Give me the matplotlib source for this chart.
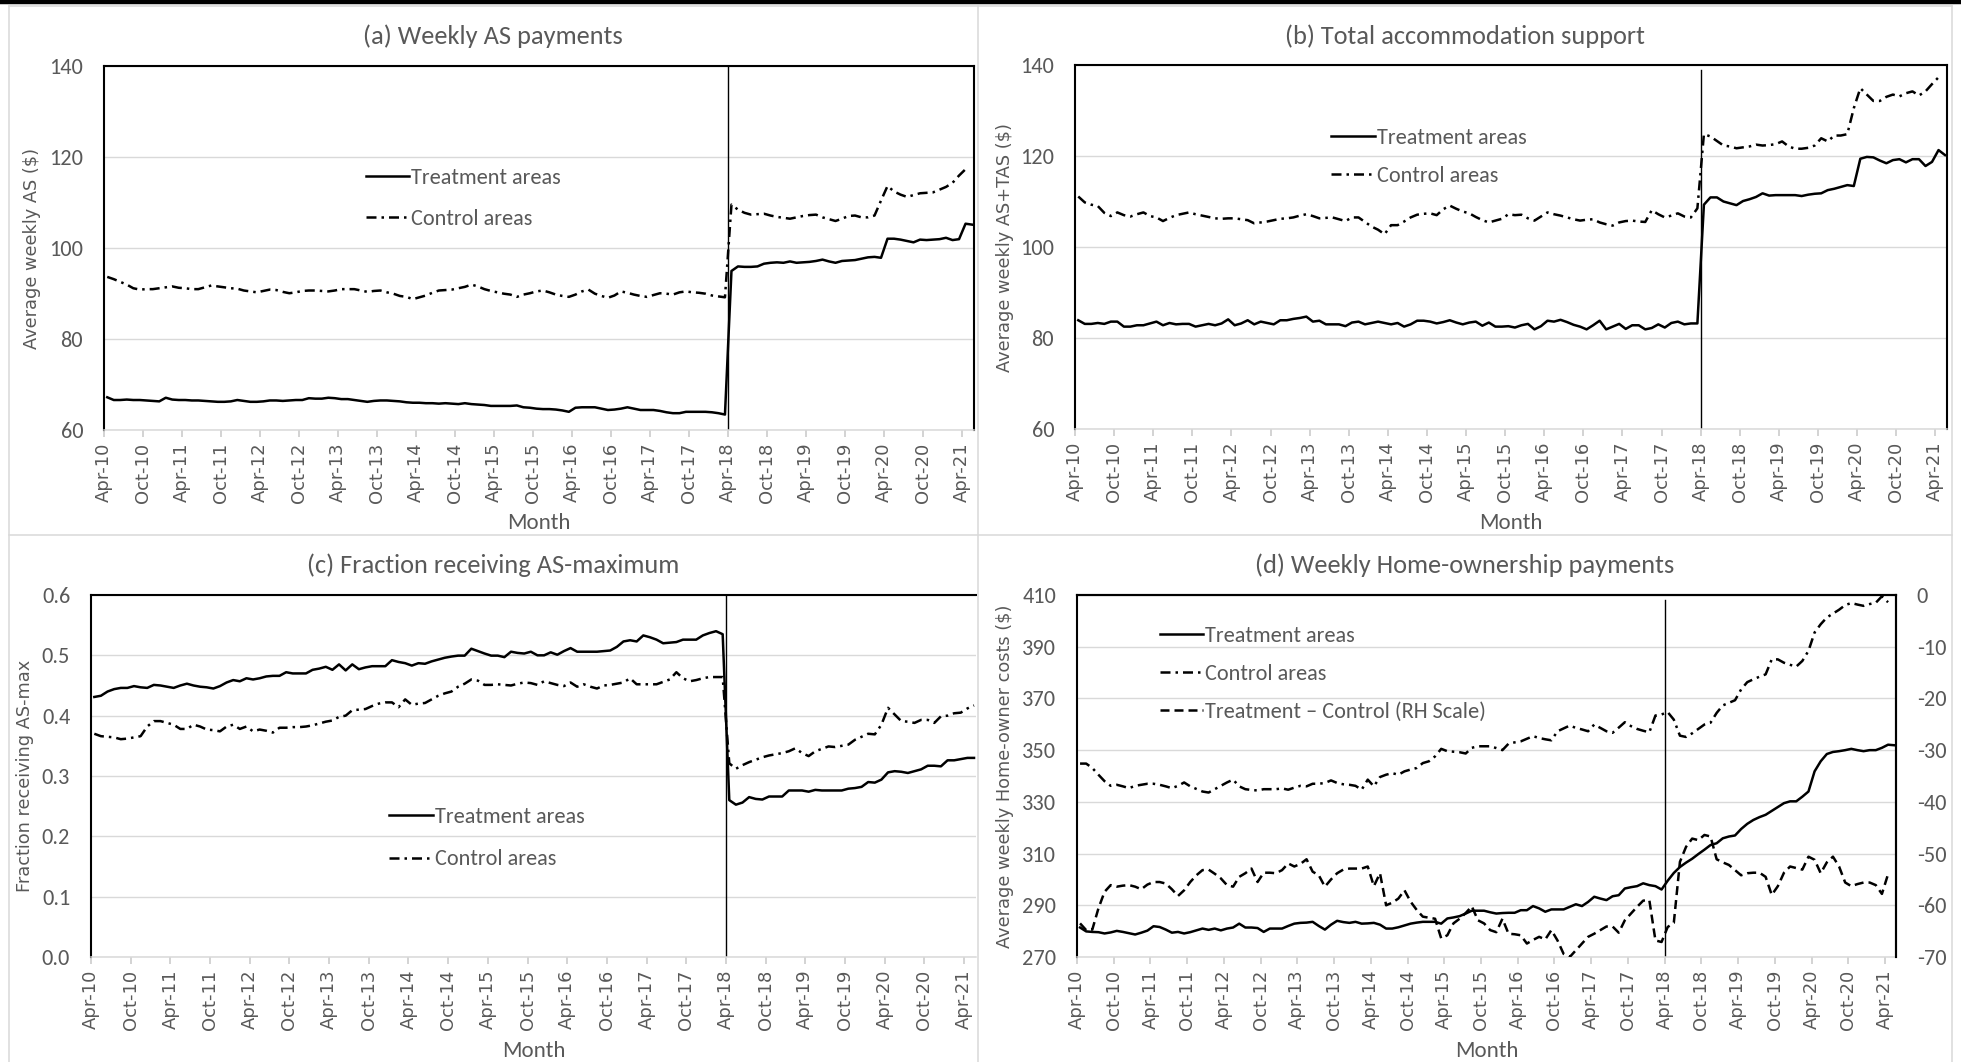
import matplotlib
matplotlib.use("Agg")
import matplotlib.pyplot as plt
from matplotlib.lines import Line2D
from matplotlib.ticker import FormatStrFormatter
from matplotlib.font_manager import FontProperties
import numpy as np

plt.rcParams['axes.unicode_minus'] = False

# ---------------------------------------------------------------- data
tick_labels = ["Apr-10", "Oct-10", "Apr-11", "Oct-11", "Apr-12", "Oct-12",
               "Apr-13", "Oct-13", "Apr-14", "Oct-14", "Apr-15", "Oct-15",
               "Apr-16", "Oct-16", "Apr-17", "Oct-17", "Apr-18", "Oct-18",
               "Apr-19", "Oct-19", "Apr-20", "Oct-20", "Apr-21"]
reform_label = "Apr-18"

# (a) weekly AS payments ($), monthly from Apr-10
as_treat = [
    67.2, 66.6, 66.6, 66.7, 66.6, 66.6, 66.5, 66.4, 66.3, 67.1,
    66.7, 66.6, 66.6, 66.5, 66.5, 66.4, 66.3, 66.2, 66.2, 66.3,
    66.6, 66.4, 66.2, 66.2, 66.3, 66.5, 66.5, 66.4, 66.5, 66.6,
    66.6, 67.0, 66.9, 66.9, 67.1, 67.0, 66.8, 66.8, 66.6, 66.4,
    66.2, 66.4, 66.5, 66.5, 66.4, 66.3, 66.1, 66.0, 66.0, 65.9,
    65.9, 65.8, 65.9, 65.8, 65.7, 65.9, 65.7, 65.6, 65.5, 65.3,
    65.3, 65.3, 65.3, 65.4, 65.0, 64.9, 64.7, 64.6, 64.6, 64.5,
    64.3, 64.0, 64.9, 65.0, 65.0, 65.0, 64.7, 64.4, 64.5, 64.7,
    65.0, 64.7, 64.4, 64.4, 64.4, 64.2, 63.9, 63.7, 63.7, 64.0,
    64.0, 64.0, 64.0, 63.9, 63.7, 63.4, 95.0, 96.0, 95.9, 95.9,
    96.0, 96.6, 96.8, 96.9, 96.8, 97.1, 96.8, 96.9, 97.0, 97.2,
    97.5, 97.1, 96.8, 97.2, 97.3, 97.4, 97.7, 98.0, 98.1, 97.9,
    102.1, 102.1, 101.9, 101.6, 101.3, 101.9, 101.8, 101.9, 102.0, 102.3,
    101.8, 102.0, 105.4, 105.2]
as_ctrl = [
    93.7, 93.2, 92.6, 92.0, 91.2, 90.9, 91.0, 91.0, 91.2, 91.4,
    91.6, 91.3, 91.2, 91.0, 91.0, 91.4, 91.8, 91.6, 91.4, 91.2,
    91.1, 90.7, 90.5, 90.3, 90.6, 90.9, 90.8, 90.4, 90.1, 90.3,
    90.6, 90.7, 90.7, 90.6, 90.5, 90.7, 91.0, 91.0, 91.0, 90.7,
    90.4, 90.6, 90.7, 90.3, 90.0, 89.5, 89.3, 88.8, 89.2, 89.6,
    90.2, 90.7, 90.8, 90.9, 91.2, 91.5, 92.0, 91.6, 91.0, 90.6,
    90.3, 90.0, 89.8, 89.3, 89.8, 90.1, 90.5, 90.7, 90.3, 89.8,
    89.5, 89.3, 89.8, 90.5, 90.9, 90.0, 89.5, 89.1, 89.6, 90.5,
    90.2, 89.8, 89.5, 89.3, 89.7, 90.1, 90.0, 89.8, 90.3, 90.5,
    90.3, 90.2, 90.0, 89.6, 89.4, 89.2, 109.6, 108.5, 107.8, 107.4,
    107.5, 107.6, 107.2, 106.9, 106.7, 106.5, 106.8, 107.1, 107.3, 107.4,
    106.8, 106.4, 106.0, 106.5, 107.1, 107.2, 106.8, 106.8, 107.2, 110.5,
    113.7, 112.5, 111.8, 111.3, 111.7, 112.1, 112.2, 112.3, 112.9, 113.5,
    114.4, 116.0, 117.4]

# (b) total accommodation support, AS+TAS ($)
tas_treat = [
    83.9, 83.1, 83.1, 83.3, 83.1, 83.6, 83.6, 82.5, 82.5, 82.8,
    82.8, 83.2, 83.6, 82.8, 83.3, 83.0, 83.1, 83.1, 82.5, 82.8,
    83.1, 82.8, 83.2, 84.1, 82.8, 83.2, 83.9, 83.0, 83.6, 83.3,
    83.0, 83.9, 83.9, 84.2, 84.4, 84.7, 83.6, 83.8, 83.0, 83.0,
    83.0, 82.6, 83.4, 83.6, 83.0, 83.3, 83.6, 83.3, 83.0, 83.3,
    82.5, 83.0, 83.8, 83.8, 83.6, 83.2, 83.5, 83.9, 83.4, 83.0,
    83.4, 83.6, 82.7, 83.4, 82.5, 82.5, 82.6, 82.3, 82.8, 83.1,
    81.9, 82.6, 83.8, 83.6, 84.0, 83.5, 82.9, 82.5, 81.9, 82.8,
    83.8, 81.9, 82.5, 83.1, 82.0, 82.8, 82.8, 81.9, 82.2, 83.0,
    82.3, 83.3, 83.6, 83.0, 83.2, 83.2, 109.3, 110.9, 110.9, 110.0,
    109.6, 109.2, 110.1, 110.5, 111.0, 111.8, 111.3, 111.4, 111.4, 111.4,
    111.4, 111.2, 111.5, 111.7, 111.8, 112.5, 112.8, 113.2, 113.6, 113.4,
    119.4, 119.8, 119.7, 119.0, 118.4, 119.1, 119.3, 118.6, 119.3, 119.3,
    117.8, 118.7, 121.3, 120.2]
tas_ctrl = [
    111.1, 109.8, 109.3, 109.0, 107.5, 106.8, 107.6, 107.0, 106.7, 107.2,
    107.6, 106.8, 106.5, 105.7, 106.4, 107.0, 107.3, 107.6, 107.2, 106.9,
    106.6, 106.3, 106.2, 106.3, 106.3, 106.1, 105.9, 105.2, 105.4, 105.6,
    105.9, 106.2, 106.3, 106.5, 106.9, 107.2, 106.8, 106.3, 106.4, 106.5,
    106.1, 105.7, 106.5, 106.5, 105.5, 104.5, 103.8, 102.8, 104.8, 104.8,
    105.6, 106.5, 107.1, 107.3, 107.4, 107.0, 108.3, 109.1, 108.4, 107.8,
    107.4, 106.6, 105.9, 105.4, 105.8, 106.2, 107.2, 107.0, 107.1, 106.3,
    105.8, 106.7, 107.6, 107.2, 106.9, 106.5, 106.1, 105.8, 106.0, 106.1,
    105.4, 105.0, 104.7, 105.4, 105.7, 105.8, 105.6, 105.5, 108.1, 107.2,
    106.5, 106.9, 107.4, 106.7, 106.5, 108.5, 124.8, 124.3, 123.3, 122.3,
    122.1, 121.7, 121.9, 122.1, 122.5, 122.3, 122.4, 122.6, 123.2, 122.1,
    121.6, 121.6, 121.8, 122.3, 123.9, 123.2, 124.5, 124.5, 124.8, 130.5,
    134.9, 133.5, 132.1, 132.1, 133.0, 133.5, 133.1, 133.8, 134.2, 133.3,
    134.2, 135.8, 137.3]

# (c) fraction receiving the AS maximum
max_treat = [
    0.431, 0.433, 0.440, 0.444, 0.446, 0.446, 0.449, 0.447, 0.446, 0.451,
    0.450, 0.448, 0.446, 0.450, 0.453, 0.450, 0.448, 0.447, 0.445, 0.449,
    0.455, 0.459, 0.457, 0.462, 0.460, 0.462, 0.465, 0.466, 0.466, 0.472,
    0.470, 0.470, 0.470, 0.476, 0.478, 0.481, 0.476, 0.485, 0.475, 0.485,
    0.477, 0.480, 0.482, 0.482, 0.482, 0.492, 0.489, 0.487, 0.483, 0.487,
    0.486, 0.490, 0.493, 0.496, 0.498, 0.4995, 0.4995, 0.511, 0.507, 0.503,
    0.4995, 0.4995, 0.497, 0.506, 0.504, 0.503, 0.506, 0.500, 0.500, 0.505,
    0.501, 0.507, 0.512, 0.506, 0.506, 0.506, 0.506, 0.507, 0.508, 0.514,
    0.523, 0.525, 0.523, 0.533, 0.530, 0.526, 0.520, 0.521, 0.522, 0.526,
    0.526, 0.526, 0.533, 0.537, 0.540, 0.535, 0.260, 0.2525, 0.256, 0.265,
    0.262, 0.261, 0.266, 0.266, 0.266, 0.276, 0.276, 0.276, 0.274, 0.277,
    0.276, 0.276, 0.276, 0.276, 0.279, 0.280, 0.282, 0.290, 0.289, 0.294,
    0.306, 0.308, 0.307, 0.305, 0.308, 0.311, 0.317, 0.317, 0.316, 0.326,
    0.326, 0.328, 0.330, 0.330]
max_ctrl = [
    0.370, 0.366, 0.365, 0.364, 0.361, 0.362, 0.364, 0.366, 0.382, 0.391,
    0.391, 0.388, 0.385, 0.378, 0.378, 0.385, 0.382, 0.377, 0.376, 0.374,
    0.382, 0.385, 0.378, 0.382, 0.374, 0.377, 0.375, 0.372, 0.380, 0.380,
    0.381, 0.381, 0.382, 0.384, 0.387, 0.390, 0.392, 0.398, 0.400, 0.409,
    0.410, 0.411, 0.416, 0.420, 0.422, 0.422, 0.414, 0.427, 0.418, 0.420,
    0.421, 0.427, 0.433, 0.437, 0.440, 0.448, 0.453, 0.460, 0.458, 0.451,
    0.451, 0.452, 0.451, 0.450, 0.453, 0.455, 0.454, 0.451, 0.457, 0.454,
    0.451, 0.449, 0.455, 0.448, 0.452, 0.448, 0.445, 0.450, 0.451, 0.453,
    0.455, 0.462, 0.452, 0.452, 0.452, 0.452, 0.456, 0.460, 0.472, 0.462,
    0.457, 0.459, 0.462, 0.464, 0.464, 0.464, 0.321, 0.312, 0.318, 0.323,
    0.327, 0.331, 0.334, 0.336, 0.338, 0.341, 0.346, 0.338, 0.333, 0.341,
    0.345, 0.349, 0.348, 0.350, 0.352, 0.360, 0.365, 0.370, 0.369, 0.385,
    0.413, 0.402, 0.391, 0.390, 0.388, 0.393, 0.393, 0.388, 0.399, 0.400,
    0.404, 0.405, 0.412, 0.417]

# (d) weekly home-ownership payments ($) and their difference (RH scale)
own_treat = [
    281.4, 279.9, 279.7, 279.6, 279.1, 279.5, 280.1, 279.7, 279.2, 278.7,
    279.4, 280.2, 281.9, 281.6, 280.6, 279.4, 279.7, 279.1, 279.6, 280.3,
    281.0, 280.5, 281.0, 280.3, 281.0, 281.4, 282.9, 281.4, 281.4, 281.2,
    279.7, 281.0, 281.0, 281.0, 282.0, 282.9, 283.2, 283.3, 283.6, 282.0,
    280.6, 282.5, 284.0, 283.5, 283.2, 283.6, 282.9, 283.0, 283.2, 282.5,
    281.0, 281.0, 281.5, 282.2, 282.9, 283.3, 283.6, 283.6, 283.6, 282.9,
    284.9, 285.3, 285.8, 286.8, 287.9, 287.9, 287.9, 287.3, 286.8, 287.0,
    287.1, 287.1, 288.1, 288.1, 289.7, 288.8, 287.5, 288.4, 288.4, 288.4,
    289.4, 290.4, 289.7, 291.3, 293.3, 292.6, 292.0, 293.5, 293.9, 296.5,
    297.0, 297.4, 298.5, 297.8, 297.4, 296.1, 299.5, 302.5, 304.8, 306.5,
    308.0, 309.8, 311.5, 313.3, 314.0, 315.9, 316.6, 317.0, 319.5, 321.5,
    323.0, 324.1, 325.0, 326.5, 328.0, 329.5, 330.2, 330.2, 332.0, 334.0,
    341.8, 345.7, 348.5, 349.3, 349.6, 350.0, 350.5, 350.0, 349.6, 350.0,
    350.0, 350.9, 352.1, 351.9]
own_ctrl = [
    344.8, 344.8, 343.1, 340.5, 338.0, 336.2, 336.6, 336.0, 335.3, 336.2,
    336.6, 337.0, 337.0, 336.6, 336.0, 335.3, 336.2, 337.5, 336.0, 335.0,
    334.0, 333.6, 334.9, 336.2, 337.5, 338.6, 336.0, 334.9, 334.6, 334.4,
    334.9, 334.9, 334.9, 335.2, 334.7, 335.5, 336.2, 336.0, 337.0, 337.0,
    337.3, 338.3, 337.3, 336.8, 336.6, 336.2, 334.7, 338.6, 336.0, 339.6,
    340.5, 341.1, 340.5, 341.8, 342.5, 343.1, 345.0, 345.7, 347.6, 350.5,
    349.6, 349.4, 349.2, 348.7, 350.9, 351.5, 351.5, 351.5, 350.8, 350.0,
    352.5, 353.0, 353.4, 354.4, 355.4, 354.7, 354.2, 353.8, 357.3, 358.4,
    359.5, 358.6, 358.0, 357.3, 359.9, 358.6, 357.3, 356.7, 358.7, 360.8,
    359.3, 358.2, 357.5, 356.9, 363.4, 363.8, 364.7, 361.8, 355.6, 355.1,
    356.5, 358.2, 359.9, 360.6, 364.4, 367.3, 368.3, 369.3, 373.5, 376.3,
    377.4, 378.4, 379.3, 385.1, 385.1, 383.8, 383.0, 382.3, 384.5, 388.4,
    395.5, 398.7, 401.3, 402.8, 404.3, 406.1, 406.9, 406.3, 405.8, 406.5,
    407.0, 409.5, 407.2]
own_diff = [
    -63.5, -64.8, -64.7, -60.6, -57.4, -56.1, -56.4, -56.2, -56.1, -56.4,
    -56.9, -56.0, -55.5, -55.5, -55.8, -56.9, -58.2, -57.1, -55.5, -54.2,
    -53.2, -53.1, -53.9, -54.8, -56.1, -56.4, -54.5, -53.8, -52.9, -55.5,
    -53.7, -53.7, -53.8, -53.2, -51.9, -52.5, -52.0, -51.1, -53.5, -54.2,
    -56.4, -55.0, -53.8, -53.1, -52.9, -52.9, -52.9, -52.5, -56.3, -53.8,
    -60.0, -59.5, -58.7, -57.1, -59.3, -60.9, -62.2, -62.4, -62.6, -66.4,
    -65.8, -63.5, -62.6, -61.5, -60.2, -62.9, -63.5, -64.8, -65.2, -62.6,
    -65.5, -65.6, -65.8, -67.4, -66.7, -66.1, -66.6, -64.8, -66.8, -69.4,
    -70.0, -68.7, -67.4, -66.1, -65.5, -64.8, -64.1, -64.1, -65.3, -62.9,
    -61.6, -60.3, -59.1, -59.0, -66.8, -67.1, -64.2, -63.4, -51.6, -48.7,
    -47.1, -47.4, -46.4, -46.7, -51.1, -51.7, -52.2, -53.2, -54.2, -53.8,
    -53.7, -53.7, -54.5, -58.0, -56.3, -53.7, -52.5, -52.8, -53.1, -50.6,
    -51.2, -53.8, -51.7, -50.6, -52.5, -55.6, -56.3, -55.9, -55.6, -55.6,
    -56.1, -57.8, -54.0]

# ---------------------------------------------------------------- styling
W, H = 1961, 1062
NARROW = ['Carlito', 'Liberation Sans Narrow', 'Lato', 'DejaVu Sans']
WIDE = ['DejaVu Sans']
TXT = '#595959'
GRID = '#d9d9d9'
LW = 1.8
DASHDOT = (0, (4, 2, 1, 2))
DASHED = (0, (3.6, 2))

tick_pos = np.arange(len(tick_labels)) * 6
reform_pos = tick_labels.index(reform_label) * 6


def month_x(values):
    # each monthly value sits in the middle of its month
    return np.arange(len(values)) + 0.5


def box(l, t, r, b):
    return [l / W, 1 - b / H, (r - l) / W, (b - t) / H]


def setup(ax, ylim, ystep, yfmt, ylabel, ylab_x, right_black=True):
    ax.set_xlim(0, 133.8)
    ax.set_ylim(*ylim)
    ax.set_yticks(np.arange(ylim[0], ylim[1] + ystep / 2, ystep))
    ax.yaxis.set_major_formatter(FormatStrFormatter(yfmt))
    ax.set_xticks(tick_pos)
    ax.set_xticklabels(tick_labels, rotation=90, fontsize=13, color=TXT,
                       family=WIDE)
    ax.tick_params(axis='x', direction='out', length=5, width=1.1,
                   color='#c8c8c8', pad=4)
    ax.tick_params(axis='y', length=0, pad=15, labelsize=16, labelcolor=TXT)
    for lab in ax.get_yticklabels():
        lab.set_family(NARROW)
    ax.grid(axis='y', color=GRID, lw=1.0)
    ax.set_axisbelow(True)
    for side in ('left', 'top'):
        ax.spines[side].set_color('black')
        ax.spines[side].set_linewidth(1.5)
    ax.spines['bottom'].set_color(GRID)
    ax.spines['bottom'].set_linewidth(1.1)
    if right_black:
        ax.spines['right'].set_color('black')
        ax.spines['right'].set_linewidth(1.5)
    else:
        ax.spines['right'].set_visible(False)
    ax.set_ylabel(ylabel, fontsize=12.8, color=TXT, family=WIDE)
    ax.yaxis.set_label_coords(ylab_x, 0.5)
    ax.set_xlabel('Month', fontsize=16.5, color=TXT, family=NARROW)


def add_legend(ax, handles, labels, x, y, spacing):
    leg = ax.legend(handles, labels, loc='upper left', bbox_to_anchor=(x, y),
                    frameon=False, handlelength=1.95, handletextpad=0.1,
                    labelspacing=spacing, borderpad=0, borderaxespad=0,
                    prop=FontProperties(family=NARROW, size=16))
    for t in leg.get_texts():
        t.set_color(TXT)
    return leg


fig = plt.figure(figsize=(W / 100, H / 100), dpi=100)

# frames around the four charts and the rule above them
frame_kw = dict(transform=fig.transFigure, color=GRID, lw=1.1)
for (x0, y0, x1, y1) in [(9, 6, 1952, 6), (9, 535, 1952, 535),
                         (9, 6, 9, 1062), (978, 6, 978, 1062),
                         (1952, 6, 1952, 1062)]:
    fig.add_artist(Line2D([x0 / W, x1 / W], [1 - y0 / H, 1 - y1 / H], **frame_kw))
fig.add_artist(Line2D([0, 1], [1 - 2 / H, 1 - 2 / H], transform=fig.transFigure,
                      color='black', lw=3.2))

titles = [("(a) Weekly AS payments", 493, 36),
          ("(b) Total accommodation support", 1465, 36),
          ("(c) Fraction receiving AS-maximum", 493, 565),
          ("(d) Weekly Home-ownership payments", 1465, 565)]
for text, tx, ty in titles:
    fig.text(tx / W, 1 - ty / H, text, ha='center', va='center', fontsize=19,
             color=TXT, family=NARROW)

# (a)
ax = fig.add_axes(box(104, 66.5, 974, 430))
h1, = ax.plot(month_x(as_treat), as_treat, color='black', lw=LW)
h2, = ax.plot(month_x(as_ctrl), as_ctrl, color='black', lw=LW, ls=DASHDOT)
ax.axvline(reform_pos, color='black', lw=1.0)
setup(ax, (60, 140), 20, '%d', 'Average weekly AS ($)', -0.0724)
ax.xaxis.set_label_coords(0.5, -0.2285)
add_legend(ax, [h1, h2], ['Treatment areas', 'Control areas'], 0.301, 0.721, 0.95)

# (b)
ax = fig.add_axes(box(1075, 65, 1947, 429))
h1, = ax.plot(month_x(tas_treat), tas_treat, color='black', lw=LW)
h2, = ax.plot(month_x(tas_ctrl), tas_ctrl, color='black', lw=LW, ls=DASHDOT)
ax.axvline(reform_pos, color='black', lw=1.0, ymax=0.985)
setup(ax, (60, 140), 20, '%d', 'Average weekly AS+TAS ($)', -0.070)
ax.xaxis.set_label_coords(0.5, -0.2305)
add_legend(ax, [h1, h2], ['Treatment areas', 'Control areas'], 0.294, 0.828, 0.82)

# (c)
ax = fig.add_axes(box(91, 595, 976, 957))
h1, = ax.plot(month_x(max_treat), max_treat, color='black', lw=LW)
h2, = ax.plot(month_x(max_ctrl), max_ctrl, color='black', lw=LW, ls=DASHDOT)
ax.axvline(reform_pos, color='black', lw=1.0)
setup(ax, (0, 0.6), 0.1, '%.1f', 'Fraction receiving AS-max', -0.0644,
      right_black=False)
ax.xaxis.set_label_coords(0.5, -0.232)
add_legend(ax, [h1, h2], ['Treatment areas', 'Control areas'], 0.337, 0.414, 1.0)

# (d)
ax = fig.add_axes(box(1077, 595, 1896, 957))
h1, = ax.plot(month_x(own_treat), own_treat, color='black', lw=LW)
h2, = ax.plot(month_x(own_ctrl), own_ctrl, color='black', lw=LW, ls=DASHDOT)
ax.axvline(reform_pos, color='black', lw=1.0, ymax=0.985)
setup(ax, (270, 410), 20, '%d', 'Average weekly Home-owner costs ($)', -0.077)
ax.xaxis.set_label_coords(0.5, -0.232)
ax2 = ax.twinx()
h3, = ax2.plot(month_x(own_diff), own_diff, color='black', lw=LW, ls=DASHED)
ax2.set_ylim(-70, 0)
ax2.set_yticks(np.arange(-70, 1, 10))
ax2.tick_params(axis='y', length=0, pad=15, labelsize=16, labelcolor=TXT)
for lab in ax2.get_yticklabels():
    lab.set_family(NARROW)
ax2.spines['right'].set_color('black')
ax2.spines['right'].set_linewidth(1.5)
ax2.spines['top'].set_color('black')
ax2.spines['top'].set_linewidth(1.5)
ax2.spines['left'].set_visible(False)
ax2.spines['bottom'].set_visible(False)
add_legend(ax2, [h1, h2, h3],
           ['Treatment areas', 'Control areas', 'Treatment \u2013 Control (RH Scale)'],
           0.101, 0.915, 0.82)

fig.savefig('out.png', dpi=100, facecolor='white')
